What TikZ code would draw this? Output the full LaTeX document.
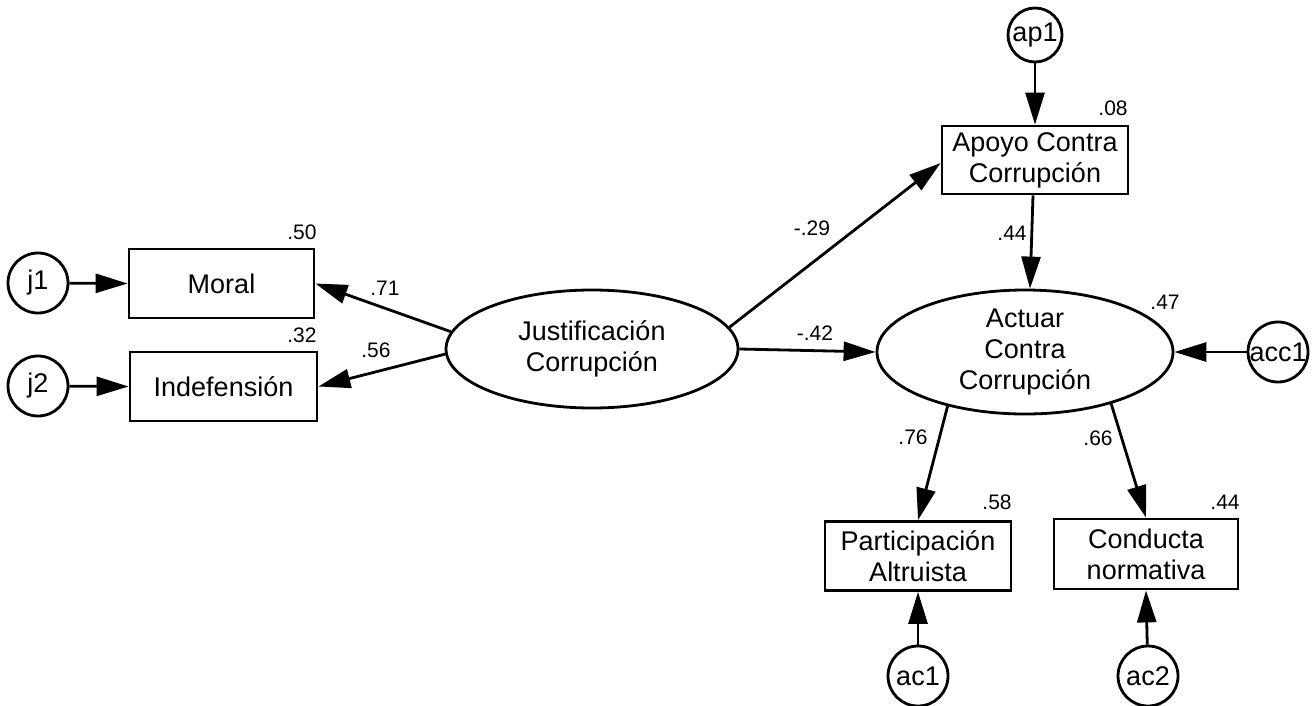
\documentclass[tikz,border=0pt]{standalone}
\usepackage{fontspec}
\setmainfont{Liberation Sans}
\usetikzlibrary{arrows.meta,shapes.geometric}
\tikzset{
  lbl/.style={font=\fontsize{27}{31}\selectfont, align=center},
  box/.style={lbl, draw, line width=2.8pt, inner sep=0pt},
  lat/.style={lbl, draw, ellipse, line width=2.8pt, inner sep=0pt},
  err/.style={lbl, draw, circle, line width=2.8pt, inner sep=0pt, minimum size=60pt},
  num/.style={font=\fontsize{21}{24}\selectfont, inner sep=0pt},
  arr/.style={line width=2.8pt, -{Triangle[length=32pt,width=19pt]}},
}
\begin{document}
\begin{tikzpicture}[x=1pt,y=-1pt]
\useasboundingbox (0,0) rectangle (1314,705);
% observed
\node[box, minimum width=185pt, minimum height=69pt] (M) at (221.5,283.5) {Moral};
\node[box, minimum width=187pt, minimum height=69pt] (I) at (223.5,386.5) {Indefensión};
\node[box, minimum width=186pt, minimum height=68pt] (A) at (1035,160) {Apoyo Contra\\Corrupción};
\node[box, minimum width=186pt, minimum height=69pt] (P) at (918,556) {Participación\\Altruista};
\node[box, minimum width=184pt, minimum height=70pt] (C) at (1146,554) {Conducta\\normativa};
% latent
\node[lat, minimum width=292pt, minimum height=118pt] (J) at (592,349) {Justificación\\Corrupción};
\node[lat, minimum width=296pt, minimum height=124pt] (Ac) at (1025,352) {Actuar\\Contra\\Corrupción};
% errors
\node[err] (j1) at (38,283) {j1};
\node[err] (j2) at (38,386) {j2};
\node[err, minimum size=54pt] (ap1) at (1035,35) {ap1};
\node[err] (acc1) at (1278,352) {acc1};
\node[err] (ac1) at (918,676) {ac1};
\node[err] (ac2) at (1148,676) {ac2};
% arrows
\draw[arr] (j1) -- (M.west);
\draw[arr] (j2) -- (I.west);
\draw[arr] (J.173) -- (M.east);
\draw[arr] (J.182) -- (I.east);
\draw[arr] (J.9) -- ([yshift=-3pt]A.west);
\draw[arr] (J.east) -- (Ac.west);
\draw[arr] (ap1) -- (A.north);
\draw[arr] ([xshift=-2pt]A.south) -- ([xshift=5pt]Ac.north);
\draw[arr] (acc1) -- (Ac.east);
\draw[arr] (Ac.-145) -- (P.north);
\draw[arr] (Ac.-31) -- (C.north);
\draw[arr] (ac1) -- (P.south);
\draw[arr] (ac2) -- (C.south);
% numbers
\node[num] (n50) at (302,232) {.50};
\node[num] (n32) at (302,335) {.32};
\node[num] (n71) at (385,288) {.71};
\node[num] (n56) at (376,350) {.56};
\node[num] (n29) at (812,228) {-.29};
\node[num] (n42) at (815,333) {-.42};
\node[num] (n08) at (1113,108) {.08};
\node[num] (n44a) at (1012,233) {.44};
\node[num] (n47) at (1165,302) {.47};
\node[num] (n76) at (913,437) {.76};
\node[num] (n66) at (1098,438) {.66};
\node[num] (n58) at (997,502) {.58};
\node[num] (n44b) at (1225,502) {.44};
\end{tikzpicture}
\end{document}
